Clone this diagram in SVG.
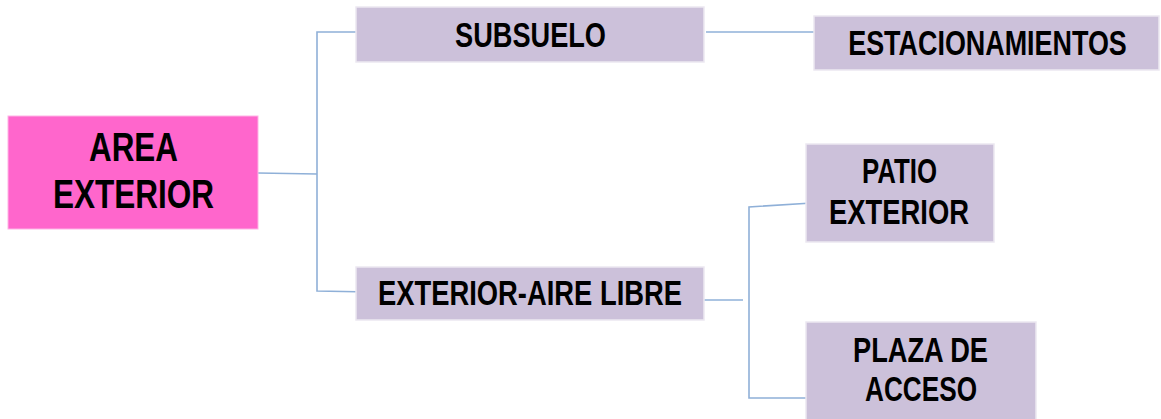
<svg xmlns="http://www.w3.org/2000/svg" width="1161" height="419" viewBox="0 0 1161 419">
<style>
.box{fill:#CCC1DA;stroke:#ECE8F1;stroke-width:1.5}
.root{fill:#FF66CC;stroke:#FFB3E6;stroke-width:1}
.t{font-family:"Liberation Sans",Arial,sans-serif;font-weight:bold;font-size:35px;fill:#000}
.tr{font-family:"Liberation Sans",Arial,sans-serif;font-weight:bold;font-size:41px;fill:#000}
.c{fill:none;stroke:#8FB0D8;stroke-width:1.6}
</style>
<rect width="1161" height="419" fill="#fff"/>
<g id="connectors">
<polyline class="c" points="258,173 317,174"/>
<polyline class="c" points="370,32 317,32 317,291 370,292"/>
<polyline class="c" points="706,32 825,32"/>
<polyline class="c" points="692,300 743,300"/>
<polyline class="c" points="812,203 749,207 749,398 818,398"/>
</g>
<g id="area-exterior">
<rect class="root" x="8" y="116" width="250" height="113"/>
<text class="tr" x="133.5" y="161" text-anchor="middle" textLength="89" lengthAdjust="spacingAndGlyphs">AREA</text>
<text class="tr" x="133.5" y="208" text-anchor="middle" textLength="161" lengthAdjust="spacingAndGlyphs">EXTERIOR</text>
</g>
<g id="subsuelo">
<rect class="box" x="356" y="7" width="348" height="55"/>
<text class="t" x="530.5" y="47" text-anchor="middle" textLength="151" lengthAdjust="spacingAndGlyphs">SUBSUELO</text>
</g>
<g id="estacionamientos">
<rect class="box" x="814" y="16" width="345" height="54"/>
<text class="t" transform="translate(987.5,55) scale(0.769,1)" x="0" y="0" text-anchor="middle">ESTACIONAMIENTOS</text>
</g>
<g id="exterior-aire-libre">
<rect class="box" x="356" y="267" width="348" height="53"/>
<text class="t" x="530" y="305" text-anchor="middle" textLength="304" lengthAdjust="spacingAndGlyphs">EXTERIOR-AIRE LIBRE</text>
</g>
<g id="patio-exterior">
<rect class="box" x="806" y="144" width="188" height="98"/>
<text class="t" x="899.5" y="183" text-anchor="middle" textLength="75" lengthAdjust="spacingAndGlyphs">PATIO</text>
<text class="t" x="899" y="224" text-anchor="middle" textLength="140" lengthAdjust="spacingAndGlyphs">EXTERIOR</text>
</g>
<g id="plaza-de-acceso">
<rect class="box" x="806" y="322" width="230" height="100"/>
<text class="t" x="920.5" y="362" text-anchor="middle" textLength="135" lengthAdjust="spacingAndGlyphs">PLAZA DE</text>
<text class="t" x="921" y="401" text-anchor="middle" textLength="112" lengthAdjust="spacingAndGlyphs">ACCESO</text>
</g>
</svg>
